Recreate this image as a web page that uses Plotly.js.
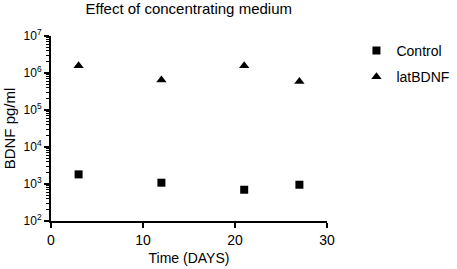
<!DOCTYPE html>
<html><head><meta charset="utf-8">
<script src="https://cdn.plot.ly/plotly-3.0.1.min.js"></script>
<style>html,body{margin:0;padding:0;background:#fff}</style>
</head><body>
<div id="chart" style="width:457px;height:269px"></div>
<script>
const days = [3, 12, 21, 27];
const controlValues = [1820, 1085, 700, 955];
const latBDNFValues = [1570000, 650000, 1580000, 590000];
const yTickVals = [1e2, 1e3, 1e4, 1e5, 1e6, 1e7];
const yTickText = ['10<sup>2</sup>','10<sup>3</sup>','10<sup>4</sup>','10<sup>5</sup>','10<sup>6</sup>','10<sup>7</sup>'];
const xTickVals = [0, 10, 20, 30];

const minorVals = [];
for (let e = 2; e < 7; e++) for (let m = 2; m <= 9; m++) minorVals.push(m * Math.pow(10, e));

const fam = 'Liberation Sans, Arial, sans-serif';
const f = (s) => ({family: fam, size: s, color: '#000'});
const data = [
  {x: days, y: controlValues, name: 'Control', legendgroup: 'a', type: 'scatter', mode: 'markers',
   marker: {symbol: 'square', size: 8, color: '#000'}},
  {x: days, y: latBDNFValues, name: 'latBDNF', legendgroup: 'b', type: 'scatter', mode: 'markers',
   marker: {symbol: 'triangle-up', size: 9, color: '#000'}}
];
const layout = {
  width: 457, height: 269,
  margin: {l: 51, r: 130, t: 36, b: 48, autoexpand: false},
  paper_bgcolor: '#fff', plot_bgcolor: '#fff',
  font: f(13),
  title: {text: 'Effect of concentrating medium', xref: 'container', x: 0.413, xanchor: 'center',
    yref: 'container', y: 0.966, yanchor: 'middle', font: f(15)},
  xaxis: {range: [0, 30], tickvals: xTickVals, ticks: 'outside', ticklen: 5, tickwidth: 1.5, tickcolor: '#000',
    showline: true, linecolor: '#000', linewidth: 2, showgrid: false, zeroline: false,
    tickfont: f(14),
    title: {text: 'Time (DAYS)', standoff: 6, font: f(14)}},
  yaxis: {type: 'log', range: [2, 7], tickvals: yTickVals, ticktext: yTickText, ticks: 'outside', ticklen: 5, tickwidth: 1.5, tickcolor: '#000',
    showline: true, linecolor: '#000', linewidth: 2, showgrid: false, zeroline: false,
    tickfont: f(12),
    minor: {tickvals: minorVals, ticks: 'outside', ticklen: 3, tickwidth: 1, tickcolor: '#000', showgrid: false},
    title: {text: 'BDNF pg/ml', standoff: 4, font: f(15)}},
  showlegend: true,
  legend: {xref: 'container', yref: 'container', x: 0.78, y: 0.87, xanchor: 'left', yanchor: 'top',
    font: f(14), traceorder: 'grouped', tracegroupgap: 5, bgcolor: 'rgba(0,0,0,0)'}
};
Plotly.newPlot('chart', data, layout, {staticPlot: true, displayModeBar: false});
</script>
</body></html>
